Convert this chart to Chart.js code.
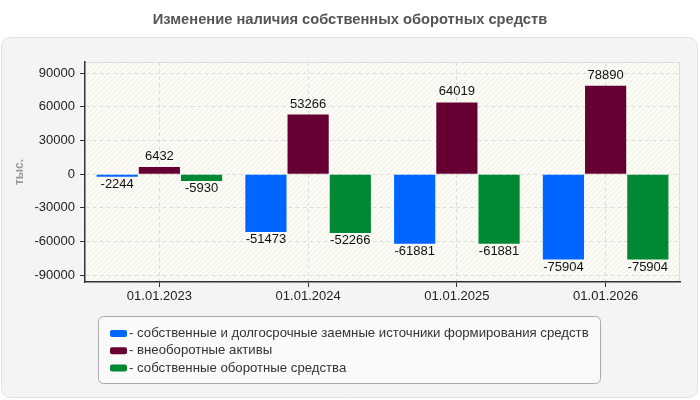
<!DOCTYPE html>
<html>
<head>
<meta charset="utf-8">
<script src="https://cdn.jsdelivr.net/npm/chart.js@4.4.1/dist/chart.umd.min.js"></script>
<style>
  body { margin: 0; background: #fff; }
  canvas { display: block; }
</style>
</head>
<body>
<canvas id="myChart" width="700" height="400"></canvas>
<script>
const FONT = "'Liberation Sans', Arial, sans-serif";

const chartTitle = 'Изменение наличия собственных оборотных средств';
const categories = ['01.01.2023', '01.01.2024', '01.01.2025', '01.01.2026'];
const seriesLabels = [
  'собственные и долгосрочные заемные источники формирования средств',
  'внеоборотные активы',
  'собственные оборотные средства'
];
const ownAndLongTerm = [-2244, -51473, -61881, -75904];
const nonCurrentAssets = [6432, 53266, 64019, 78890];
const ownWorkingCapital = [-5930, -52266, -61881, -75904];
const yTicks = [-90000, -60000, -30000, 0, 30000, 60000, 90000];
const colors = ['#0066ff', '#660033', '#008833'];

// panel, plot background, title
const backgroundPlugin = {
  id: 'background',
  beforeDraw(chart) {
    const ctx = chart.ctx;
    const a = chart.chartArea;
    ctx.save();
    ctx.fillStyle = '#fff';
    ctx.fillRect(0, 0, chart.width, chart.height);

    ctx.beginPath();
    ctx.roundRect(1.5, 37.5, 696, 360, 9);
    ctx.fillStyle = '#f4f4f4';
    ctx.fill();
    ctx.strokeStyle = '#e2e2e2';
    ctx.lineWidth = 1;
    ctx.stroke();

    ctx.fillStyle = '#555';
    ctx.font = 'bold 14.7px ' + FONT;
    ctx.textAlign = 'center';
    ctx.textBaseline = 'middle';
    ctx.fillText(chartTitle, chart.width / 2, 20);

    // plot area with light hatch
    ctx.fillStyle = '#fcfcf5';
    ctx.fillRect(a.left, a.top, a.right - a.left, a.bottom - a.top);
    ctx.beginPath();
    ctx.rect(a.left, a.top, a.right - a.left, a.bottom - a.top);
    ctx.clip();
    ctx.strokeStyle = '#ededeb';
    ctx.lineWidth = 1;
    const h = a.bottom - a.top;
    for (let x = a.left - h; x < a.right; x += 5) {
      ctx.beginPath();
      ctx.moveTo(x, a.bottom);
      ctx.lineTo(x + h, a.top);
      ctx.stroke();
    }
    ctx.restore();

    ctx.save();
    ctx.strokeStyle = '#dddddd';
    ctx.lineWidth = 1;
    ctx.beginPath();
    ctx.moveTo(a.left, a.top + 0.5);
    ctx.lineTo(a.right - 0.5, a.top + 0.5);
    ctx.lineTo(a.right - 0.5, a.bottom);
    ctx.stroke();
    ctx.restore();
  }
};

// value labels above / below each bar
const valueLabels = {
  id: 'valueLabels',
  afterDatasetsDraw(chart) {
    const ctx = chart.ctx;
    ctx.save();
    ctx.font = '13px ' + FONT;
    ctx.fillStyle = '#111';
    ctx.textAlign = 'center';
    chart.data.datasets.forEach((ds, i) => {
      chart.getDatasetMeta(i).data.forEach((bar, j) => {
        const v = ds.data[j];
        if (v >= 0) {
          ctx.textBaseline = 'bottom';
          ctx.fillText(String(v), bar.x, bar.y - 4);
        } else {
          ctx.textBaseline = 'top';
          ctx.fillText(String(v), bar.x, bar.y + 1);
        }
      });
    });
    ctx.restore();
  }
};

// boxed legend below the plot, one series per row
const boxLegend = {
  id: 'boxLegend',
  afterDraw(chart) {
    const ctx = chart.ctx;
    ctx.save();
    ctx.beginPath();
    ctx.roundRect(98.5, 316.5, 502, 67, 5);
    ctx.fillStyle = '#fafafa';
    ctx.fill();
    ctx.strokeStyle = '#aaaaaa';
    ctx.lineWidth = 1;
    ctx.stroke();

    ctx.font = '13.2px ' + FONT;
    ctx.textBaseline = 'middle';
    ctx.textAlign = 'left';
    chart.data.datasets.forEach((ds, i) => {
      const y = 333.5 + i * 17.2;
      ctx.beginPath();
      ctx.roundRect(110, y - 3.5, 17, 7, 2);
      ctx.fillStyle = ds.backgroundColor;
      ctx.fill();
      ctx.fillStyle = '#333';
      ctx.fillText('- ' + ds.label, 129, y);
    });
    ctx.restore();
  }
};

const ctx = document.getElementById('myChart');
const myChart = new Chart(ctx, {
  type: 'bar',
  data: {
    labels: categories,
    datasets: [
      { label: seriesLabels[0], data: ownAndLongTerm, backgroundColor: colors[0] },
      { label: seriesLabels[1], data: nonCurrentAssets, backgroundColor: colors[1] },
      { label: seriesLabels[2], data: ownWorkingCapital, backgroundColor: colors[2] }
    ]
  },
  options: {
    responsive: false,
    animation: false,
    events: [],
    categoryPercentage: 0.851,
    barPercentage: 0.976,
    layout: { padding: { top: 62, right: 20, bottom: 88, left: 0 } },
    plugins: {
      legend: { display: false },
      title: { display: false },
      tooltip: { enabled: false }
    },
    scales: {
      x: {
        afterFit(scale) { scale.height = 30; },
        grid: {
          offset: false,
          color: '#dddddd',
          tickColor: '#333',
          tickLength: 5,
          tickBorderDash: []
        },
        border: { color: '#333', width: 1.5, dash: [4, 3] },
        ticks: { color: '#222', padding: 2, font: { size: 13, family: FONT } }
      },
      y: {
        min: -96000,
        max: 100000,
        afterFit(scale) { scale.width = 85; },
        afterBuildTicks(scale) {
          scale.ticks = yTicks.map(v => ({ value: v }));
        },
        grid: {
          color: '#dddddd',
          tickColor: '#333',
          tickLength: 5,
          tickBorderDash: []
        },
        border: { color: '#333', width: 1.5, dash: [4, 3] },
        ticks: {
          color: '#222',
          padding: 5,
          font: { size: 13, family: FONT },
          callback: (v) => String(v)
        },
        title: {
          display: true,
          text: 'тыс.',
          color: '#999',
          padding: { top: 12, bottom: 0 },
          font: { size: 12, weight: 'bold', family: FONT }
        }
      }
    }
  },
  plugins: [backgroundPlugin, valueLabels, boxLegend]
});
</script>
</body>
</html>
